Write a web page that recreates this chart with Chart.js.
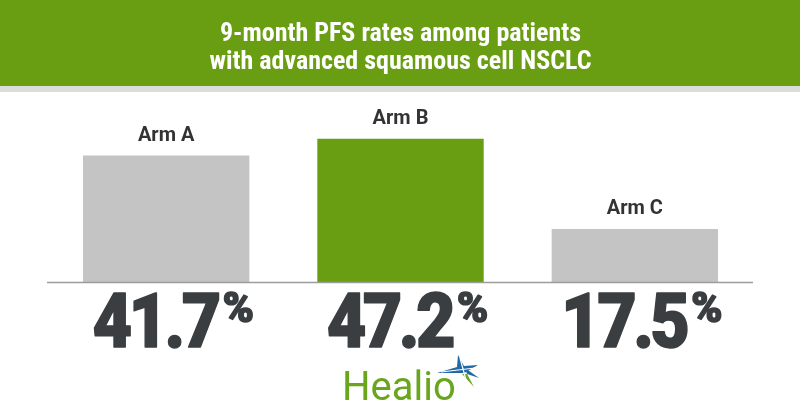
<!DOCTYPE html>
<html>
<head>
<meta charset="utf-8">
<script src="https://cdn.jsdelivr.net/npm/chart.js@4/dist/chart.umd.min.js"></script>
<style>
  html, body { margin: 0; padding: 0; background: #ffffff; }
  #wrap { width: 800px; height: 420px; position: relative; }
</style>
</head>
<body>
<div id="wrap"><canvas id="c" width="800" height="420"></canvas></div>
<script>
const titleLines = ["9-month PFS rates among patients", "with advanced squamous cell NSCLC"];
const categories = ["Arm A", "Arm B", "Arm C"];
const pfsRates = [41.7, 47.2, 17.5];
const barColors = ["#c4c4c4", "#6a9e12", "#c4c4c4"];
const brandText = "Healio";

const decorPlugin = {
  id: "decor",
  beforeDraw(chart) {
    const ctx = chart.ctx;
    ctx.save();
    ctx.fillStyle = "#ffffff";
    ctx.fillRect(0, 0, chart.width, chart.height);
    ctx.fillStyle = "#6a9e12";
    ctx.fillRect(0, 0, chart.width, 86);
    ctx.fillStyle = "#dcdcdc";
    ctx.fillRect(0, 86, chart.width, 6);
    ctx.restore();
  },
  afterDatasetsDraw(chart) {
    const ctx = chart.ctx;
    const area = chart.chartArea;
    const meta = chart.getDatasetMeta(0);
    ctx.save();
    // baseline
    ctx.strokeStyle = "#9c9c9c";
    ctx.lineWidth = 1.5;
    ctx.beginPath();
    ctx.moveTo(area.left - 2, area.bottom + 0.5);
    ctx.lineTo(area.right + 1, area.bottom + 0.5);
    ctx.stroke();

    const sx = 0.9;
    meta.data.forEach((bar, i) => {
      // category label above bar
      ctx.fillStyle = "#333333";
      ctx.font = "bold 20px Roboto, 'Liberation Sans', sans-serif";
      ctx.textAlign = "center";
      ctx.textBaseline = "alphabetic";
      ctx.letterSpacing = "0px";
      ctx.fillText(categories[i], bar.x, bar.y - 15);

      // big value below baseline
      const num = pfsRates[i].toFixed(1);
      const bigFont = "900 76px Roboto, 'Liberation Sans', sans-serif";
      const pctFont = "900 42px Roboto, 'Liberation Sans', sans-serif";
      ctx.textAlign = "left";
      ctx.font = bigFont;
      ctx.letterSpacing = "-4px";
      const wNum = ctx.measureText(num).width * sx;
      ctx.letterSpacing = "0px";
      ctx.font = pctFont;
      const wPct = ctx.measureText("%").width;
      const gap = 5;
      const total = wNum + gap + wPct;
      const startX = bar.x + 7 - total / 2;
      ctx.fillStyle = "#3a3e40";
      ctx.strokeStyle = "#3a3e40";
      ctx.lineWidth = 1.5;
      ctx.lineJoin = "round";

      ctx.save();
      ctx.translate(startX, 347);
      ctx.scale(sx, 1);
      ctx.font = bigFont;
      ctx.letterSpacing = "-4px";
      ctx.fillText(num, 0, 0);
      ctx.strokeText(num, 0, 0);
      ctx.restore();

      ctx.font = pctFont;
      ctx.letterSpacing = "0px";
      ctx.lineWidth = 1.6;
      ctx.fillText("%", startX + wNum + gap, 322);
      ctx.strokeText("%", startX + wNum + gap, 322);
    });

    // brand mark
    ctx.letterSpacing = "0px";
    ctx.fillStyle = "#6aa51e";
    ctx.font = "40px Roboto, 'Liberation Sans', sans-serif";
    ctx.textAlign = "left";
    ctx.textBaseline = "alphabetic";
    ctx.fillText(brandText, 342, 400);
    // star
    const cx = 461, cy = 370;
    ctx.fillStyle = "#1f6aa5";
    ctx.beginPath();
    const pts = [[-3,-15],[3,-4],[17,-5],[5,2],[3,3],[-2,3],[-24,3],[-4,-3]];
    pts.forEach((p, k) => { if (k === 0) ctx.moveTo(cx + p[0], cy + p[1]); else ctx.lineTo(cx + p[0], cy + p[1]); });
    ctx.closePath();
    ctx.fill();
    ctx.beginPath();
    ctx.moveTo(cx + 4, cy - 2);
    ctx.lineTo(cx + 18, cy + 8);
    ctx.lineTo(cx + 6, cy + 4);
    ctx.closePath();
    ctx.fill();
    ctx.fillStyle = "#6aa51e";
    ctx.beginPath();
    ctx.moveTo(cx + 1, cy + 4);
    ctx.lineTo(cx + 13, cy + 17);
    ctx.lineTo(cx + 6, cy + 4);
    ctx.closePath();
    ctx.fill();
    ctx.strokeStyle = "#ffffff";
    ctx.lineWidth = 1.2;
    ctx.beginPath();
    ctx.moveTo(cx - 20, cy + 2);
    ctx.lineTo(cx + 14, cy - 2);
    ctx.moveTo(cx - 1, cy - 12);
    ctx.lineTo(cx + 5, cy + 10);
    ctx.stroke();
    ctx.restore();
  }
};

new Chart(document.getElementById("c"), {
  type: "bar",
  data: {
    labels: categories,
    datasets: [{
      data: pfsRates,
      backgroundColor: barColors,
      borderWidth: 0,
      barPercentage: 0.71,
      categoryPercentage: 1.0
    }]
  },
  options: {
    responsive: false,
    animation: false,
    events: [],
    layout: { padding: { left: 49, right: 48, top: 0, bottom: 138 } },
    plugins: {
      legend: { display: false },
      tooltip: { enabled: false },
      title: {
        display: true,
        text: titleLines,
        color: "#ffffff",
        font: { family: "'Liberation Sans Narrow', 'Roboto Condensed', Roboto, sans-serif", size: 26, weight: "bold", lineHeight: "28px" },
        padding: { top: 20, bottom: 24 }
      }
    },
    scales: {
      x: { display: false, offset: true },
      y: { display: false, min: 0, max: 60 }
    }
  },
  plugins: [decorPlugin]
});
</script>
</body>
</html>
